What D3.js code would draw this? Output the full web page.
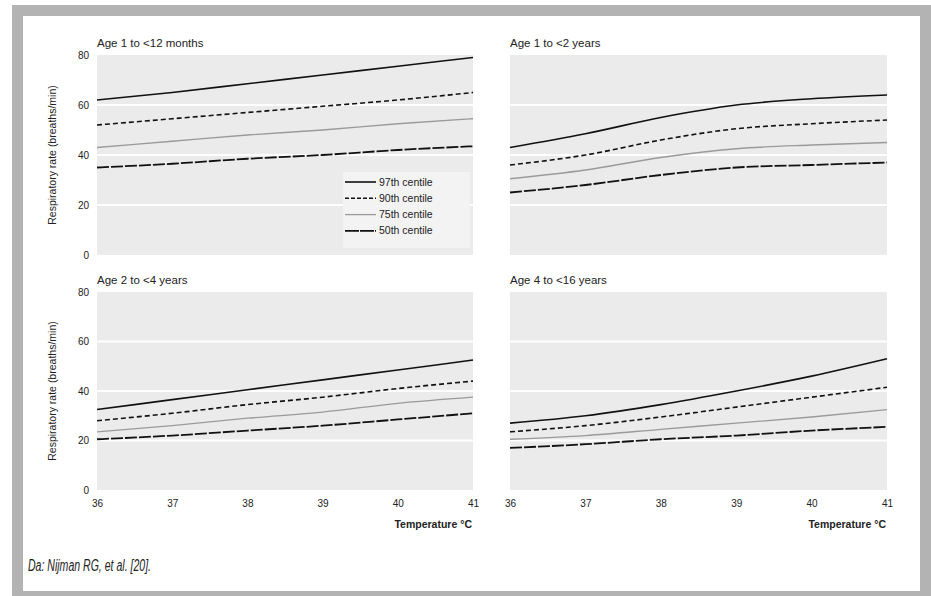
<!DOCTYPE html>
<html>
<head>
<meta charset="utf-8">
<script src="https://cdn.jsdelivr.net/npm/d3@7"></script>
<style>
  body { margin: 0; background: #fff; }
  svg text { font-family: "Liberation Sans", "Open Sans", sans-serif; fill: #222; }
</style>
</head>
<body>
<svg id="chart" width="931" height="596"></svg>
<script>
// temperature (°C) on the x axis
const temps = [36, 37, 38, 39, 40, 41];
const yTicks = [0, 20, 40, 60, 80];
const centiles = ["97th centile", "90th centile", "75th centile", "50th centile"];
const panelTitles = ["Age 1 to <12 months", "Age 1 to <2 years", "Age 2 to <4 years", "Age 4 to <16 years"];

// respiratory rate per centile, one array per panel (97th, 90th, 75th, 50th)
const age1to12m = [
  [62, 65, 68.5, 72, 75.5, 79],
  [52, 54.5, 57, 59.5, 62, 65],
  [43, 45.5, 48, 50, 52.5, 54.5],
  [35, 36.5, 38.5, 40, 42, 43.5]
];
const age1to2y = [
  [43, 48.5, 55, 60, 62.5, 64],
  [36, 40, 46, 50.5, 52.5, 54],
  [30.5, 34, 39, 42.5, 44, 45],
  [25, 28, 32, 35, 36, 37]
];
const age2to4y = [
  [32.5, 36.5, 40.5, 44.5, 48.5, 52.5],
  [28, 31, 34.5, 37.5, 41, 44],
  [23.5, 26, 29, 31.5, 35, 37.5],
  [20.5, 22, 24, 26, 28.5, 31]
];
const age4to16y = [
  [27, 30, 34.5, 40, 46, 53],
  [23.5, 26, 29.5, 33.5, 37.5, 41.5],
  [20.5, 22, 24.5, 27, 29.5, 32.5],
  [17, 18.5, 20.5, 22, 24, 25.5]
];

const panelData = [age1to12m, age1to2y, age2to4y, age4to16y];

const lineStyles = [
  {stroke: "#111", width: 1.6, dash: null, legendDash: null},
  {stroke: "#111", width: 1.6, dash: "5,3", legendDash: "4,2"},
  {stroke: "#9a9a9a", width: 1.3, dash: null, legendDash: null},
  {stroke: "#111", width: 1.8, dash: "12,2", legendDash: "14,1"}
];

const svg = d3.select("#chart");

// outer frame
svg.append("rect")
  .attr("x", 17.5).attr("y", 10.5)
  .attr("width", 908).attr("height", 586)
  .attr("fill", "none")
  .attr("stroke", "#b3b3b3")
  .attr("stroke-width", 11);

const cols = [[97, 473], [510, 887]];
const rows = [[55, 255], [292, 490]];

panelData.forEach(function (series, i) {
  const col = i % 2, row = Math.floor(i / 2);
  const x = d3.scaleLinear().domain([36, 41]).range(cols[col]);
  const y = d3.scaleLinear().domain([0, 80]).range([rows[row][1], rows[row][0]]);

  const g = svg.append("g");

  g.append("rect")
    .attr("x", x(36)).attr("y", y(80))
    .attr("width", x(41) - x(36)).attr("height", y(0) - y(80))
    .attr("fill", "#ebebeb");

  g.selectAll(".grid")
    .data([20, 40, 60])
    .join("line")
    .attr("x1", x(36)).attr("x2", x(41))
    .attr("y1", d => y(d)).attr("y2", d => y(d))
    .attr("stroke", "#fff")
    .attr("stroke-width", 2);

  g.append("text")
    .attr("x", x(36)).attr("y", y(80) - 8)
    .attr("font-size", 11.5)
    .text(panelTitles[i]);

  if (col === 0) {
    const yAxis = g.append("g")
      .attr("transform", "translate(" + (x(36) - 4) + ",0)")
      .call(d3.axisLeft(y).tickValues(yTicks).tickSize(0).tickPadding(4));
    yAxis.select(".domain").remove();
    yAxis.selectAll("text")
      .attr("font-size", 10)
      .style("font-family", "\"Liberation Sans\", sans-serif")
      .attr("fill", "#222");

    g.append("text")
      .attr("transform", "translate(56," + ((y(0) + y(80)) / 2) + ") rotate(-90)")
      .attr("text-anchor", "middle")
      .attr("font-size", 10.5)
      .text("Respiratory rate (breaths/min)");
  }

  if (row === 1) {
    const xAxis = g.append("g")
      .attr("transform", "translate(0," + (y(0) + 2) + ")")
      .call(d3.axisBottom(x).tickValues(temps).tickFormat(d3.format("d")).tickSize(0).tickPadding(8));
    xAxis.select(".domain").remove();
    xAxis.selectAll("text")
      .attr("font-size", 10)
      .style("font-family", "\"Liberation Sans\", sans-serif")
      .attr("fill", "#222");

    g.append("text")
      .attr("x", x(41) - 1).attr("y", y(0) + 38)
      .attr("text-anchor", "end")
      .attr("font-size", 10.5)
      .attr("font-weight", "bold")
      .text("Temperature °C");
  }

  const line = d3.line()
    .x((d, k) => x(temps[k]))
    .y(d => y(d))
    .curve(d3.curveMonotoneX);

  g.selectAll(".centile")
    .data(series)
    .join("path")
    .attr("d", d => line(d))
    .attr("fill", "none")
    .attr("stroke", (d, k) => lineStyles[k].stroke)
    .attr("stroke-width", (d, k) => lineStyles[k].width)
    .attr("stroke-dasharray", (d, k) => lineStyles[k].dash);

  // legend only in the first panel
  if (i === 0) {
    const lg = g.append("g").attr("transform", "translate(343,172)");
    lg.append("rect")
      .attr("width", 127).attr("height", 76)
      .attr("fill", "#f3f3f3");
    centiles.forEach(function (name, k) {
      const ly = 10 + k * 16.3;
      lg.append("line")
        .attr("x1", 2).attr("x2", 33)
        .attr("y1", ly).attr("y2", ly)
        .attr("stroke", lineStyles[k].stroke)
        .attr("stroke-width", lineStyles[k].width)
        .attr("stroke-dasharray", lineStyles[k].legendDash);
      lg.append("text")
        .attr("x", 36).attr("y", ly + 3.5)
        .attr("font-size", 10.5)
        .text(name);
    });
  }
});

svg.append("text")
  .attr("x", 28).attr("y", 571)
  .attr("font-size", 16)
  .attr("font-style", "italic")
  .attr("textLength", 123)
  .attr("lengthAdjust", "spacingAndGlyphs")
  .text("Da: Nijman RG, et al. [20].");
</script>
</body>
</html>
